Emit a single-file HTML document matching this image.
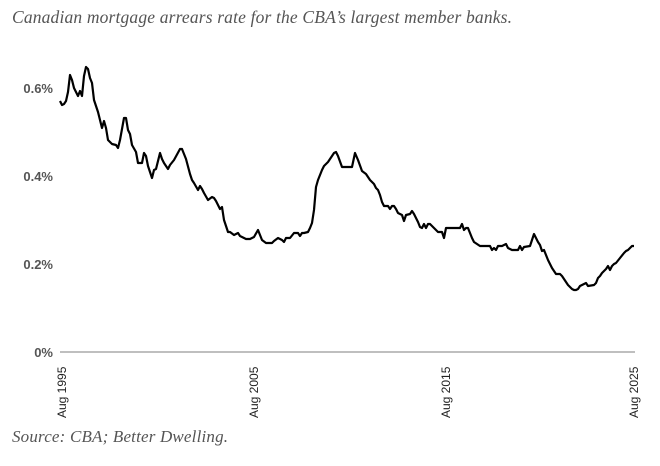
<!DOCTYPE html>
<html><head><meta charset="utf-8"><style>
body{margin:0;background:#fff;width:660px;height:461px;overflow:hidden}
</style></head><body>
<svg width="660" height="461" xmlns="http://www.w3.org/2000/svg">
<text x="12" y="23" font-family="Liberation Serif, serif" font-style="italic" font-size="17.5" fill="#555" textLength="500">Canadian mortgage arrears rate for the CBA’s largest member banks.</text>
<g font-family="Liberation Sans, sans-serif" font-weight="bold" font-size="13" fill="#555" text-anchor="end">
<text x="53" y="93">0.6%</text>
<text x="53" y="181">0.4%</text>
<text x="53" y="269">0.2%</text>
<text x="53" y="357">0%</text>
</g>
<line x1="60" y1="352" x2="635" y2="352" stroke="#aaa" stroke-width="1.5"/>
<g font-family="Liberation Sans, sans-serif" font-size="12" fill="#222">
<text transform="translate(66,418) rotate(-90)">Aug 1995</text>
<text transform="translate(258,418) rotate(-90)">Aug 2005</text>
<text transform="translate(450,418) rotate(-90)">Aug 2015</text>
<text transform="translate(638,418) rotate(-90)">Aug 2025</text>
</g>
<polyline fill="none" stroke="#000" stroke-width="2.2" stroke-linejoin="round" points="60,101 62,105 64,104 66,101 68,92 70,75 72,80 74,88 78,96 80,91 82,96 84,76 86,67 88,69 90,78 92,83 94,100 98,112 100,120 102,128 104,121 106,128 108,140 112,144 116,145 118,148 120,140 124,118 126,118 128,130 130,134 132,145 136,152 138,163 142,163 144,153 146,156 148,166 152,178 154,170 156,169 160,153 162,159 164,163 168,169 170,165 174,160 180,149 182,149 186,159 190,174 192,180 194,183 198,190 200,186 202,189 204,193 208,200 212,197 214,198 216,201 220,209 222,207 224,220 228,232 230,232 234,235 238,233 240,236 246,239 250,239 254,237 258,230 260,235 262,240 266,243 272,243 274,241 278,238 282,240 284,242 286,238 290,238 294,233 298,233 300,236 302,233 304,233 308,232 310,228 312,223 314,210 316,187 318,180 322,170 324,166 326,164 328,162 332,156 334,153 336,152 338,156 342,167 352,167 355,153 358,160 362,171 366,174 370,180 374,184 376,188 378,190 380,195 382,202 384,206 388,206 390,209 392,206 394,206 396,209 398,213 402,215 404,221 406,215 410,214 412,211 414,214 418,222 420,227 422,228 424,224 426,228 428,224 430,224 432,226 434,228 438,232 442,232 444,238 446,228 460,228 462,224 464,230 466,228 468,228 472,238 474,242 480,246 486,246 490,246 492,250 494,248 496,250 498,246 502,246 506,244 508,248 512,250 518,250 520,246 522,250 524,247 530,246 534,234 538,242 540,245 542,251 544,250 548,260 552,268 556,274 560,274 562,276 568,285 572,289 574,290 576,290 578,289 580,286 584,284 586,283 588,286 594,285 596,283 598,278 600,276 602,273 606,269 608,266 610,270 612,266 614,264 616,263 620,258 624,253 626,251 628,250 630,248 632,246 634,246"/>
<text x="12" y="442" font-family="Liberation Serif, serif" font-style="italic" font-size="17" fill="#555" textLength="216">Source: CBA; Better Dwelling.</text>
</svg>
</body></html>
